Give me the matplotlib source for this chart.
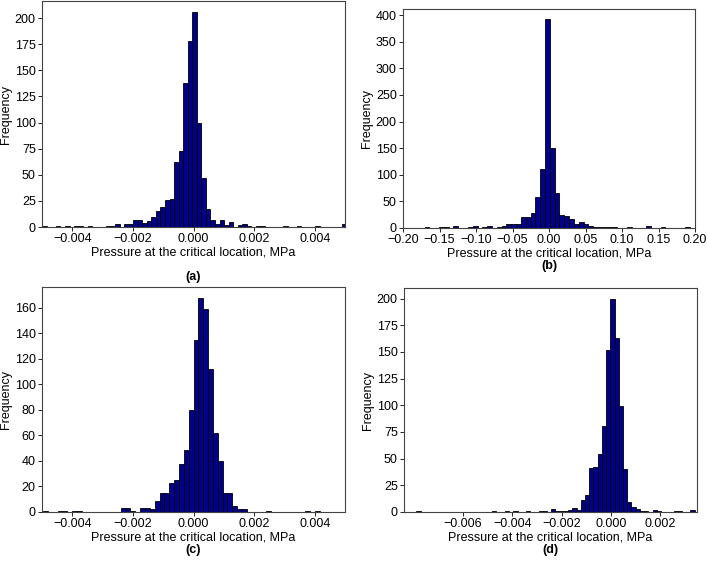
import matplotlib
matplotlib.use("Agg")
import matplotlib.pyplot as plt
from matplotlib.ticker import MultipleLocator, FixedLocator
import numpy as np

plt.rcParams['font.family'] = ['Liberation Sans', 'DejaVu Sans']
plt.rcParams['font.size'] = 9

# (a) bins: first left edge, width, counts
a_start, a_width = -0.00499, 0.00015
a_counts = [1, 0, 0, 1, 0, 1, 0, 1, 1, 0, 1, 0, 0, 0, 1, 1, 3, 0, 3, 3,
            7, 7, 4, 6, 10, 15, 19, 26, 27, 62, 73, 138, 178, 206, 100, 47, 17, 7, 3, 7,
            2, 5, 0, 2, 3, 1, 0, 1, 1, 0, 0, 0, 0, 1, 0, 0, 1, 0, 0, 0,
            1, 0, 0, 0, 0, 0, 3]

# (b)
b_start, b_width = -0.1705, 0.0066
b_counts = [1, 0, 0, 2, 1, 0, 3, 0, 0, 1, 3, 0, 1, 3, 0, 1, 3, 7, 7, 7,
            20, 21, 28, 59, 110, 392, 151, 66, 25, 22, 17, 8, 11, 7, 4, 2, 1, 1, 1, 1,
            0, 0, 2, 0, 0, 0, 3, 0, 0, 2, 0, 0, 0, 0, 1]

# (c)
c_start, c_width = -0.00512, 0.00016
c_counts = [0, 1, 0, 0, 1, 1, 0, 1, 1, 0, 0, 0, 0, 0, 0, 0, 0, 3, 3, 1,
            0, 3, 3, 2, 9, 15, 15, 23, 25, 38, 49, 80, 135, 168, 159, 112, 62, 40, 15, 15,
            5, 2, 2, 0, 0, 0, 0, 1, 0, 0, 0, 0, 0, 0, 0, 1, 0, 1]

# (d)
d_start, d_width = -0.0079, 0.0001713
d_counts = [1, 0, 0, 0, 0, 0, 0, 0, 0, 0, 0, 0, 0, 0, 0, 0, 0, 0, 1, 0,
            0, 1, 0, 1, 0, 0, 1, 0, 0, 1, 1, 0, 3, 1, 1, 1, 2, 4, 2, 11,
            16, 41, 42, 54, 81, 152, 200, 163, 99, 40, 9, 5, 3, 1, 1, 0, 2, 1, 0, 0,
            0, 1, 1, 0, 0, 2]

a_ticks = [-0.004, -0.002, 0.0, 0.002, 0.004]
b_ticks = [-0.2, -0.15, -0.1, -0.05, 0.0, 0.05, 0.1, 0.15, 0.2]
c_ticks = [-0.004, -0.002, 0.0, 0.002, 0.004]
d_ticks = [-0.006, -0.004, -0.002, 0.0, 0.002]

panels = [
    ("(a)", a_start, a_width, a_counts, (-0.005, 0.005), a_ticks, 25),
    ("(b)", b_start, b_width, b_counts, (-0.2, 0.2), b_ticks, 50),
    ("(c)", c_start, c_width, c_counts, (-0.005, 0.005), c_ticks, 20),
    ("(d)", d_start, d_width, d_counts, (-0.0084, 0.0035), d_ticks, 25),
]

W, H = 708, 569
fig = plt.figure(figsize=(W / 100, H / 100), dpi=100)

# axes boxes in pixels: left, right, top, bottom
boxes = [(42, 345, 1, 227), (403, 695, 9, 228), (42, 345, 287, 512), (404, 697, 288, 512)]
label_y = [277, 266, 550, 550]

for (tag, start, width, counts, xlim, xt, ystep), (l, r, t, b), ly in zip(panels, boxes, label_y):
    ax = fig.add_axes([l / W, 1 - b / H, (r - l) / W, (b - t) / H])
    edges = start + width * np.arange(len(counts) + 1)
    ax.hist(edges[:-1], bins=edges, weights=counts, color='#00008B',
            edgecolor='black', linewidth=0.6)
    ax.set_xlim(*xlim)
    ax.xaxis.set_major_locator(FixedLocator(xt))
    ax.yaxis.set_major_locator(MultipleLocator(ystep))
    ax.set_xlabel("Pressure at the critical location, MPa", fontsize=9, labelpad=1)
    ax.set_ylabel("Frequency", fontsize=9, labelpad=2)
    ax.tick_params(labelsize=9, length=3, width=0.6, pad=1.5)
    for s in ax.spines.values():
        s.set_color('#444444')
        s.set_linewidth(0.8)
    fig.text((l + r) / 2 / W, 1 - ly / H, tag, ha='center', va='center',
             fontsize=9, fontweight='bold')

fig.savefig("out.png", dpi=100)
